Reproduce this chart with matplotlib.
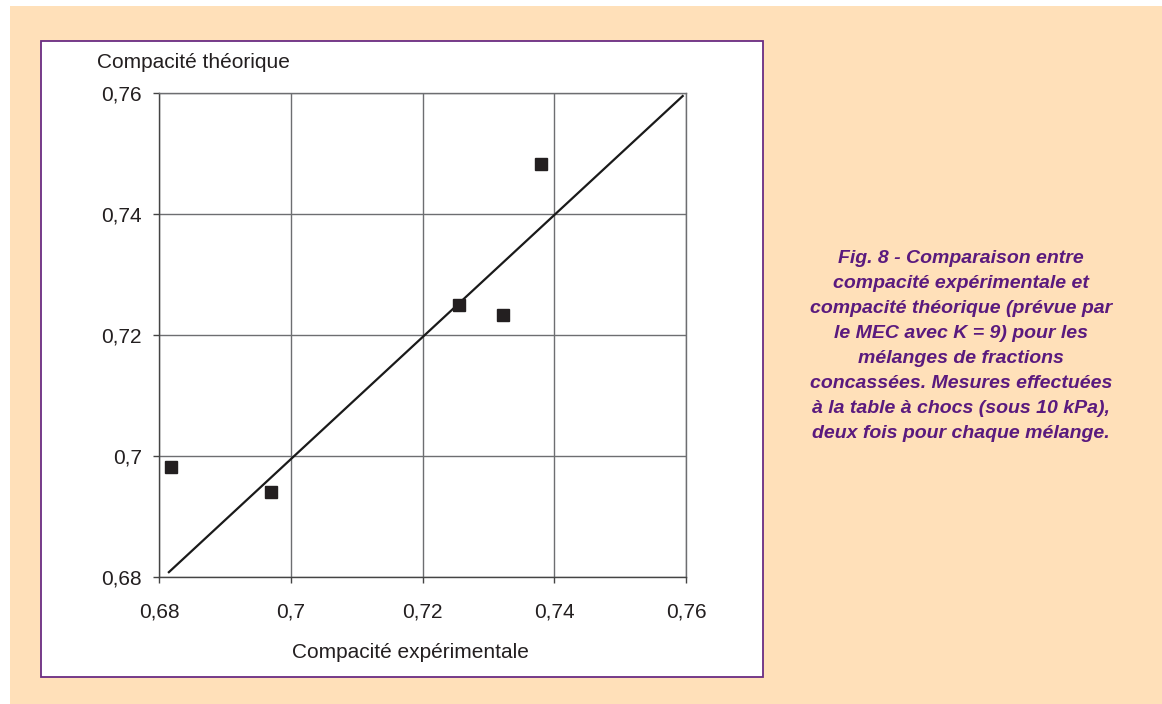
import matplotlib
matplotlib.use("Agg")
import matplotlib.pyplot as plt
from matplotlib.patches import Rectangle
from matplotlib.ticker import FixedLocator, FuncFormatter

# data
x_exp = [0.6818, 0.697, 0.7255, 0.7322, 0.738]
y_theo = [0.6982, 0.694, 0.725, 0.7233, 0.7483]
line_x = [0.6815, 0.7595]
line_y = [0.6808, 0.7595]
ticks = [0.68, 0.70, 0.72, 0.74, 0.76]

caption = ("Fig. 8 - Comparaison entre\n"
           "compacité expérimentale et\n"
           "compacité théorique (prévue par\n"
           "le MEC avec K = 9) pour les\n"
           "mélanges de fractions\n"
           "concassées. Mesures effectuées\n"
           "à la table à chocs (sous 10 kPa),\n"
           "deux fois pour chaque mélange.")

plt.rcParams['font.family'] = ['Liberation Sans', 'DejaVu Sans']

W, H = 1162, 704
fig = plt.figure(figsize=(W / 100, H / 100), dpi=100, facecolor='white')

# peach background and the white framed panel
peach = '#ffe0b9'
purple = '#6a2c82'
fig.patches.append(Rectangle((10 / W, 0), 1 - 10 / W, 1 - 6 / H,
                             transform=fig.transFigure, facecolor=peach,
                             edgecolor='none', zorder=-2))
fig.patches.append(Rectangle((41 / W, 1 - 677 / H), (763 - 41) / W, (677 - 41) / H,
                             transform=fig.transFigure, facecolor='white',
                             edgecolor=purple, linewidth=1.3, zorder=-1))

ax = fig.add_axes([159 / W, 1 - 577 / H, (686 - 159) / W, (577 - 93) / H])
ax.set_facecolor('white')
ax.set_xlim(0.68, 0.76)
ax.set_ylim(0.68, 0.76)

grey = '#6d6e71'
ax.grid(True, color=grey, linewidth=1.0)
ax.set_axisbelow(True)
for s in ax.spines.values():
    s.set_color(grey)
    s.set_linewidth(1.0)
ax.spines['left'].set_color('#444444')
ax.spines['bottom'].set_color('#444444')

ax.plot(line_x, line_y, color='#1a1a1a', linewidth=1.6, zorder=3)
ax.plot(x_exp, y_theo, linestyle='none', marker='s', markersize=8,
        color='#231f20', zorder=4)

fmt = FuncFormatter(lambda v, p: ('%g' % round(v, 2)).replace('.', ','))
ax.xaxis.set_major_locator(FixedLocator(ticks))
ax.yaxis.set_major_locator(FixedLocator(ticks))
ax.xaxis.set_major_formatter(fmt)
ax.yaxis.set_major_formatter(fmt)
ax.tick_params(axis='y', direction='out', length=4.3, width=1.0, color='#444444',
               pad=8, labelsize=15, labelcolor='#231f20')
ax.tick_params(axis='x', direction='out', length=4.3, width=1.0, color='#444444',
               pad=14, labelsize=15, labelcolor='#231f20')

fig.text(97 / W, 1 - 62 / H, 'Compacité théorique', fontsize=15,
         color='#231f20', ha='left', va='center')
fig.text(410 / W, 1 - 653 / H, 'Compacité expérimentale', fontsize=15,
         color='#231f20', ha='center', va='center')

fig.text(961 / W, 1 - 346 / H, caption, fontsize=14, fontweight='bold',
         fontstyle='italic', color='#5a1a7e', ha='center', va='center',
         linespacing=1.62)

fig.savefig('out.png', dpi=100, facecolor=fig.get_facecolor())
